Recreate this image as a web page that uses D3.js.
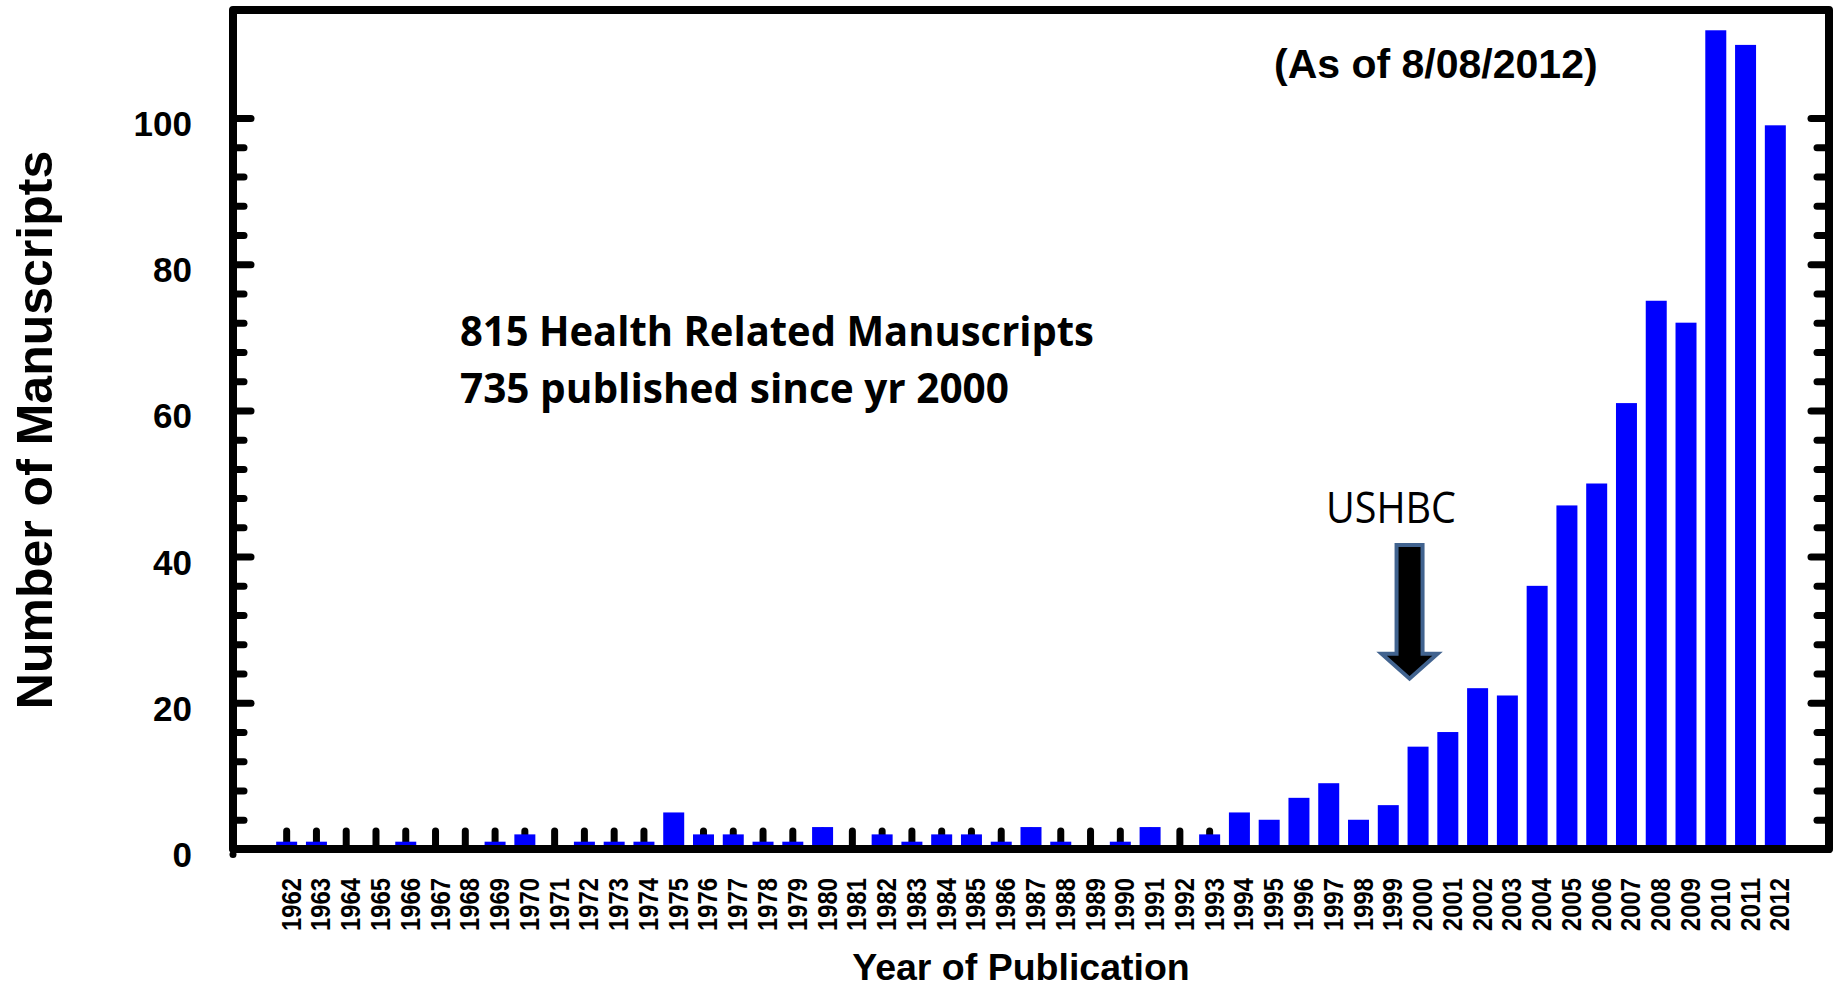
<!DOCTYPE html>
<html>
<head>
    <meta charset="utf-8">
    <script type="text/javascript" src="https://d3js.org/d3.v7.min.js"></script>
    <style>
body {
	margin: 0;
	background: #fff;
}

svg {
	display: block;
	background: #fff;
}

.tick line {
	stroke: #000;
	stroke-width: 7;
	stroke-linecap: round;
}

.axisLabel text, .yearLabel text {
	font-family: "Liberation Sans", Arial, sans-serif;
	font-weight: bold;
	fill: #000;
}

.frame {
	fill: none;
	stroke: #000;
	stroke-width: 8;
	stroke-linejoin: round;
}

.bar {
	fill: #0000ff;
}
    </style>
</head>
<body>
	<svg class="pubChart" width="1835" height="988"></svg>

    <script type="text/javascript">

	// manuscripts per year
	var years = d3.range(1962, 2013).map(String);
	var counts = [1, 1, 0, 0, 1, 0, 0, 1, 2, 0,
		1, 1, 1, 5, 2, 2, 1, 1, 3, 0,
		2, 1, 2, 2, 1, 3, 1, 0, 1, 3,
		0, 2, 5, 4, 7, 9, 4, 6, 14, 16,
		22, 21, 36, 47, 50, 61, 75, 72, 112, 110,
		99];
	var majorTicks = [0, 20, 40, 60, 80, 100];
	var minorTicks = d3.range(0, 101, 4).filter(function(d) { return d % 20 != 0; });

	var noteLines = ["815 Health Related Manuscripts", "735 published since yr 2000"];
	var dateNote = "(As of 8/08/2012)";
	var arrowLabel = "USHBC";
	var arrowYear = "2000",
		arrowFrom = 41.6,  // top of arrow, in manuscripts
		arrowTo = 23.3;    // tip of arrow

	var data = years.map(function(y, i) { return {year: y, n: counts[i]}; });

	// note: "top" is taken by window.top, so use plot* names
	var svg = d3.select(".pubChart"),
		plotLeft = 233, plotRight = 1829, plotTop = 10, plotBottom = 849;

	var xScale = d3.scaleBand()
		.domain(years)
		.range([plotLeft, plotRight])
		.paddingInner(0.295)
		.paddingOuter(1.45);

	var yScale = d3.scaleLinear()
		.domain([0, 100])
		.range([plotBottom, 118]);

	// year ticks, pointing up, under the bars
	svg.append("g")
		.attr("transform", "translate(0," + plotBottom + ")")
		.call(d3.axisTop(xScale).tickSize(18).tickFormat(""))
		.call(function(g) { g.select(".domain").remove(); });

	// inward ticks on left and right
	function yTicks(x, axisFn, vals, size) {
		svg.append("g")
			.attr("transform", "translate(" + x + ",0)")
			.call(axisFn(yScale).tickValues(vals).tickSize(size).tickFormat(""))
			.call(function(g) { g.select(".domain").remove(); });
	}
	yTicks(plotLeft, d3.axisRight, minorTicks, 11);
	yTicks(plotLeft, d3.axisRight, majorTicks, 18);
	yTicks(plotRight, d3.axisLeft, minorTicks, 12);
	yTicks(plotRight, d3.axisLeft, majorTicks, 18);

	// bars
	svg.append("g").selectAll(".bar")
		.data(data)
		.enter().append("rect")
		.attr("class", "bar")
		.attr("x", function(d) { return xScale(d.year); })
		.attr("width", xScale.bandwidth())
		.attr("y", function(d) { return yScale(d.n); })
		.attr("height", function(d) { return plotBottom - yScale(d.n); });

	svg.append("rect")
		.attr("class", "frame")
		.attr("x", plotLeft)
		.attr("y", plotTop)
		.attr("width", plotRight - plotLeft)
		.attr("height", plotBottom - plotTop);

	// y labels
	svg.append("g")
		.attr("class", "axisLabel")
		.attr("transform", "translate(" + plotLeft + ",5)")
		.call(d3.axisLeft(yScale).tickValues(majorTicks).tickSize(0).tickPadding(41))
		.call(function(g) {
			g.select(".domain").remove();
			g.selectAll("text").attr("font-size", 35).attr("dy", "0.355em");
		});

	// year labels, rotated, baseline a bit right of the bar centre
	svg.append("g")
		.attr("class", "yearLabel")
		.attr("transform", "translate(0," + plotBottom + ")")
		.call(d3.axisBottom(xScale).tickSize(0))
		.call(function(g) {
			g.select(".domain").remove();
			g.selectAll("text")
				.attr("font-size", 27)
				.attr("transform", "rotate(-90)")
				.attr("text-anchor", "end")
				.attr("x", -29)
				.attr("y", 14)
				.attr("dy", 0)
				.attr("textLength", 53)
				.attr("lengthAdjust", "spacingAndGlyphs");
		});

	svg.append("text")
		.attr("x", 1021)
		.attr("y", 980)
		.attr("text-anchor", "middle")
		.style("font", "bold 37.5px 'Liberation Sans', Arial, sans-serif")
		.text("Year of Publication");

	svg.append("text")
		.attr("transform", "translate(52,430) rotate(-90)")
		.attr("text-anchor", "middle")
		.style("font", "bold 50px 'Liberation Sans', Arial, sans-serif")
		.text("Number of Manuscripts");

	svg.append("text")
		.attr("x", 1274)
		.attr("y", 78)
		.style("font", "bold 41px 'Liberation Sans', Arial, sans-serif")
		.text(dateNote);

	var noteWidths = [634, 549];
	svg.selectAll(".note")
		.data(noteLines)
		.enter().append("text")
		.attr("class", "note")
		.attr("x", 460)
		.attr("y", function(d, i) { return 346 + i * 57; })
		.attr("textLength", function(d, i) { return noteWidths[i]; })
		.attr("lengthAdjust", "spacingAndGlyphs")
		.style("font", "bold 41px 'Open Sans', Lato, sans-serif")
		.text(function(d) { return d; });

	// USHBC arrow
	var ax = xScale(arrowYear) + 2,
		ay0 = yScale(arrowFrom),
		ay1 = yScale(arrowTo),
		headLen = 25, shaftW = 13, headW = 28;
	svg.append("path")
		.attr("d", "M" + (ax - shaftW) + "," + ay0 +
			"H" + (ax + shaftW) +
			"V" + (ay1 - headLen) +
			"H" + (ax + headW) +
			"L" + ax + "," + ay1 +
			"L" + (ax - headW) + "," + (ay1 - headLen) +
			"H" + (ax - shaftW) + "Z")
		.attr("fill", "#000")
		.attr("stroke", "#41638f")
		.attr("stroke-width", 4);

	svg.append("text")
		.attr("x", 1326)
		.attr("y", 523)
		.attr("textLength", 130)
		.attr("lengthAdjust", "spacingAndGlyphs")
		.style("font", "43px 'Open Sans', Lato, sans-serif")
		.text(arrowLabel);

	</script>
</body>
</html>
